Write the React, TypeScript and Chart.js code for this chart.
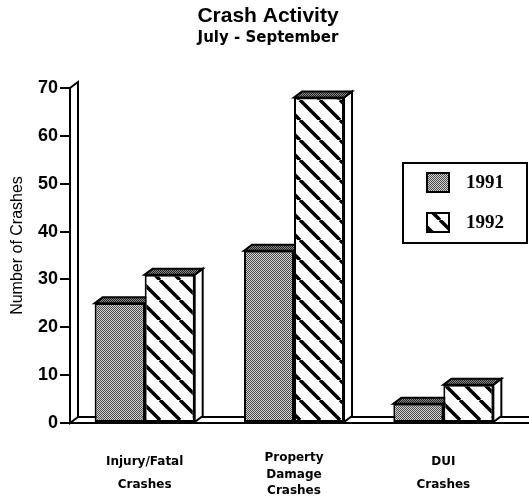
import React, { useEffect, useRef } from "react";
import { Chart, registerables } from "chart.js";

Chart.register(...registerables);

const titleText = "Crash Activity";
const subtitleText = "July - September";
const yAxisTitle = "Number of Crashes";
const categories: string[][] = [
  ["Injury/Fatal", "Crashes"],
  ["Property", "Damage", "Crashes"],
  ["DUI", "Crashes"],
];
const seriesLabels = ["1991", "1992"];
const values1991 = [25, 36, 4];
const values1992 = [31, 68, 8];
const yMin = 0;
const yMax = 70;
const yStep = 10;

const DX = 8;
const DY = 6;
const PAD_LEFT = 18;

function makeDotPattern(ctx: CanvasRenderingContext2D, dark: string, light: string) {
  const c = document.createElement("canvas");
  c.width = 2;
  c.height = 2;
  const g = c.getContext("2d")!;
  g.fillStyle = light;
  g.fillRect(0, 0, 2, 2);
  g.fillStyle = dark;
  g.fillRect(0, 0, 1, 1);
  g.fillRect(1, 1, 1, 1);
  return ctx.createPattern(c, "repeat")!;
}

function makeHatchPattern(ctx: CanvasRenderingContext2D) {
  const s = 20;
  const c = document.createElement("canvas");
  c.width = s;
  c.height = s;
  const g = c.getContext("2d")!;
  g.fillStyle = "#ffffff";
  g.fillRect(0, 0, s, s);
  g.strokeStyle = "#000000";
  g.lineWidth = 3.5;
  for (let k = -1; k <= 1; k++) {
    g.beginPath();
    g.moveTo(k * s, 0);
    g.lineTo(k * s + s, s);
    g.stroke();
  }
  return ctx.createPattern(c, "repeat")!;
}

export default function App() {
  const ref = useRef<HTMLCanvasElement | null>(null);

  useEffect(() => {
    const canvas = ref.current!;
    const ctx = canvas.getContext("2d")!;
    const dotFront = makeDotPattern(ctx, "#4a4a4a", "#d4d4d4");
    const dotTop = makeDotPattern(ctx, "#222222", "#8a8a8a");
    const hatch = makeHatchPattern(ctx);
    const fills = [dotFront, hatch];

    const threeD = {
      id: "threeD",
      afterLayout(chart: any) {
        const ys = chart.scales.y;
        // let the axis title use the left margin and sit a little higher
        ys.left -= PAD_LEFT;
        ys.top -= 20;
      },
      beforeDatasetsDraw(chart: any) {
        const c = chart.ctx as CanvasRenderingContext2D;
        const area = chart.chartArea;
        const ys = chart.scales.y;
        const base = ys.getPixelForValue(0);
        const top = ys.getPixelForValue(yMax);
        c.save();
        c.lineWidth = 2;
        c.strokeStyle = "#000";
        c.lineJoin = "miter";
        // floor
        c.beginPath();
        c.moveTo(area.left - 10, base);
        c.lineTo(chart.width, base);
        c.moveTo(area.left + DX, base - DY);
        c.lineTo(chart.width, base - DY);
        c.stroke();
        // wall
        c.beginPath();
        c.moveTo(area.left, base);
        c.lineTo(area.left, top);
        c.lineTo(area.left + DX, top - DY);
        c.lineTo(area.left + DX, base - DY);
        c.closePath();
        c.fillStyle = "#fff";
        c.fill();
        c.stroke();
        // bars: side and top faces
        chart.data.datasets.forEach((_: any, di: number) => {
          const meta = chart.getDatasetMeta(di);
          meta.data.forEach((bar: any) => {
            const l = bar.x - bar.width / 2;
            const r = bar.x + bar.width / 2;
            const y = bar.y;
            const b = bar.base;
            c.beginPath();
            c.moveTo(r, y);
            c.lineTo(r + DX, y - DY);
            c.lineTo(r + DX, b - DY);
            c.lineTo(r, b);
            c.closePath();
            c.fillStyle = "#fff";
            c.fill();
            c.stroke();
            c.beginPath();
            c.moveTo(l, y);
            c.lineTo(l + DX, y - DY);
            c.lineTo(r + DX, y - DY);
            c.lineTo(r, y);
            c.closePath();
            c.fillStyle = dotTop;
            c.fill();
            c.stroke();
          });
        });
        c.restore();
      },
      afterDraw(chart: any) {
        const c = chart.ctx as CanvasRenderingContext2D;
        const bx = 403;
        const by = 163;
        const bw = chart.width - 2 - bx;
        const bh = 80;
        c.save();
        c.fillStyle = "#fff";
        c.fillRect(bx, by, bw, bh);
        c.lineWidth = 2;
        c.strokeStyle = "#000";
        c.strokeRect(bx, by, bw, bh);
        c.font = "bold 19px 'Liberation Serif'";
        c.textBaseline = "middle";
        c.textAlign = "left";
        chart.data.datasets.forEach((ds: any, i: number) => {
          const cy = by + 19 + i * 40;
          c.fillStyle = fills[i];
          c.fillRect(bx + 24, cy - 9, 22, 19);
          c.strokeRect(bx + 24, cy - 9, 22, 19);
          c.fillStyle = "#000";
          c.fillText(ds.label, bx + 63, cy + 1);
        });
        c.restore();
      },
    };

    const chart = new Chart(canvas, {
      type: "bar",
      data: {
        labels: categories,
        datasets: [
          {
            label: seriesLabels[0],
            data: values1991,
            backgroundColor: dotFront,
            borderColor: "#000",
            borderWidth: 2,
            borderSkipped: false,
          },
          {
            label: seriesLabels[1],
            data: values1992,
            backgroundColor: hatch,
            borderColor: "#000",
            borderWidth: 2,
            borderSkipped: false,
          },
        ],
      },
      options: {
        responsive: false,
        animation: false,
        categoryPercentage: 0.67,
        barPercentage: 1.0,
        layout: { padding: { right: 11, left: PAD_LEFT, top: 0, bottom: 0 } },
        plugins: {
          legend: { display: false },
          tooltip: { enabled: false },
          title: {
            display: true,
            text: titleText,
            color: "#000",
            font: { family: "'Liberation Sans', Arial, sans-serif", size: 21, weight: "bold", lineHeight: 1.2 },
            padding: { top: 4, bottom: 0 },
          },
          subtitle: {
            display: true,
            text: subtitleText,
            color: "#000",
            font: { family: "'DejaVu Sans', sans-serif", size: 15, weight: "bold", lineHeight: 1.2 },
            padding: { top: 0, bottom: 40.8 },
          },
        },
        scales: {
          x: {
            grid: { display: false, drawTicks: false },
            border: { display: false },
            ticks: {
              color: "#000",
              padding: 27,
              maxRotation: 0,
              autoSkip: false,
              font: (c: any) => ({
                family: "'DejaVu Sans', sans-serif",
                size: 12,
                weight: "bold",
                lineHeight: categories[c.index] && categories[c.index].length > 2 ? 16.5 / 12 : 23 / 12,
              }),
            },
            afterFit: (s: any) => {
              s.height = 79;
            },
          },
          y: {
            min: yMin,
            max: yMax,
            grid: {
              display: true,
              drawOnChartArea: false,
              drawTicks: true,
              tickLength: 10,
              color: "#000",
              lineWidth: 2,
            },
            border: { display: false },
            ticks: {
              stepSize: yStep,
              color: "#000",
              padding: 2,
              font: { family: "'Liberation Sans', Arial, sans-serif", size: 18, weight: "bold" },
            },
            title: {
              display: true,
              text: yAxisTitle,
              color: "#000",
              font: { family: "'Liberation Sans', Arial, sans-serif", size: 16 },
              padding: { top: 8, bottom: 0 },
            },
            afterFit: (s: any) => {
              s.width = 70 - PAD_LEFT;
            },
          },
        },
      },
      plugins: [threeD],
    });
    return () => chart.destroy();
  }, []);

  return (
    <div style={{ position: "absolute", left: 0, top: 0, width: 529, height: 502, background: "#fff" }}>
      <canvas ref={ref} width={529} height={502} style={{ display: "block" }} />
    </div>
  );
}
